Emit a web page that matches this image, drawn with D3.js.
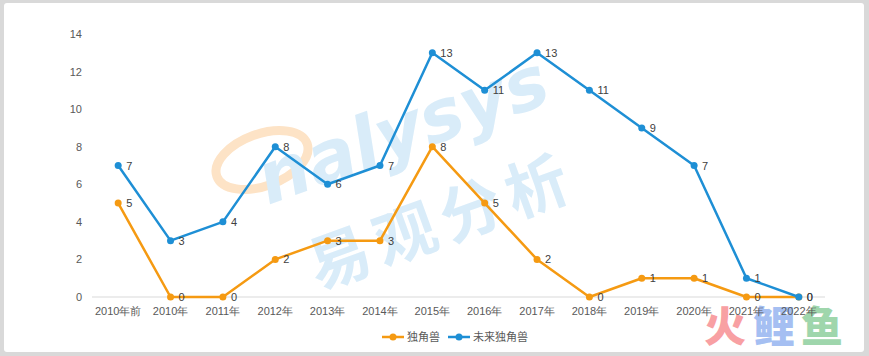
<!DOCTYPE html>
<html><head><meta charset="utf-8">
<script src="https://cdn.jsdelivr.net/npm/d3@7"></script>
<style>html,body{margin:0;padding:0;background:#fff;}svg{display:block;}</style>
</head><body>
<svg id="c" width="869" height="356"></svg>
<script>
const categories = ["2010年前","2010年","2011年","2012年","2013年","2014年","2015年","2016年","2017年","2018年","2019年","2020年","2021年","2022年"];
const unicorn = [5,0,0,2,3,3,8,5,2,0,1,1,0,0];
const futureUnicorn = [7,3,4,8,6,7,13,11,13,11,9,7,1,0];
const yTicks = [0,2,4,6,8,10,12,14];
const seriesNames = ["独角兽","未来独角兽"];
const colors = ["#F59A12","#1E8FD5"];

const svg = d3.select("#c");
const W = 869, H = 356;
const font = "'Liberation Sans', Arial, sans-serif";
svg.append("rect").attr("width",W).attr("height",H).attr("fill","#d9d9d9");
svg.append("rect").attr("x",4).attr("y",3).attr("width",860).attr("height",349).attr("rx",3).attr("fill","#fff");

// watermark
const wm = svg.append("g").attr("pointer-events","none");
wm.append("ellipse").attr("cx",262).attr("cy",160).attr("rx",48).attr("ry",26)
  .attr("transform","rotate(-20,262,160)").attr("fill","none").attr("stroke","#fde3c6").attr("stroke-width",9);
wm.append("text").attr("x",0).attr("y",0).attr("transform","translate(268,205) rotate(-20)")
  .attr("font-family","'DejaVu Sans', sans-serif").attr("font-style","italic").attr("font-weight","bold")
  .attr("font-size",72).attr("fill","#d9ecf9").text("nalysys");
wm.append("text").attr("transform","translate(318,290) rotate(-20)")
  .attr("font-family","'Noto Sans CJK SC', sans-serif").attr("font-weight","bold")
  .attr("font-size",62).attr("letter-spacing",8).attr("fill","#d9ecf9").text("易观分析");

// site watermark (drawn beneath axis labels)
const sw = svg.append("g").attr("font-family","'Noto Sans CJK SC', sans-serif").attr("font-weight","900").attr("font-size",42);
sw.append("text").attr("x",704).attr("y",342).attr("fill","#f8a0a3").text("火");
sw.append("text").attr("x",753).attr("y",342).attr("fill","#a5bff2").text("鲤");
sw.append("text").attr("x",801).attr("y",342).attr("fill","#9fd6ac").text("鱼");

const x = d3.scaleBand().domain(categories).range([92,825]);
const y = d3.scaleLinear().domain([0,14]).range([297,34]);
const cx = d => x(d) + x.bandwidth()/2;

// y axis labels
const ya = svg.append("g").attr("transform","translate(82,0)")
  .call(d3.axisLeft(y).tickValues(yTicks).tickSize(0).tickPadding(0));
ya.select(".domain").remove();
ya.selectAll("text").attr("font-family",font).attr("font-size",11).attr("fill","#595959");

// baseline
svg.append("line").attr("x1",92).attr("x2",825).attr("y1",y(0)).attr("y2",y(0))
  .attr("stroke","#d9d9d9").attr("stroke-width",1);

// x axis labels
const xa = svg.append("g").attr("transform",`translate(0,${y(0)})`)
  .call(d3.axisBottom(x).tickSize(0).tickPadding(10));
xa.select(".domain").remove();
xa.selectAll("text").attr("font-family",font).attr("font-size",11).attr("fill","#595959");

const line = d3.line().x((d,i)=>cx(categories[i])).y(d=>y(d));
[unicorn, futureUnicorn].forEach((vals, s) => {
  const g = svg.append("g");
  g.append("path").datum(vals).attr("d",line).attr("fill","none")
    .attr("stroke",colors[s]).attr("stroke-width",2.5).attr("stroke-linejoin","round");
  g.selectAll("circle").data(vals).join("circle")
    .attr("cx",(d,i)=>cx(categories[i])).attr("cy",d=>y(d)).attr("r",3.5).attr("fill",colors[s]);
  g.selectAll("text").data(vals).join("text")
    .attr("x",(d,i)=>cx(categories[i])+8).attr("y",d=>y(d)+4)
    .attr("font-family",font).attr("font-size",11).attr("fill","#404040").text(d=>d);
});

// legend
const legend = svg.append("g").attr("transform","translate(382,337)");
const lx = [0, 66];
seriesNames.forEach((n,i)=>{
  const g = legend.append("g").attr("transform",`translate(${lx[i]},0)`);
  g.append("line").attr("x1",0).attr("x2",22).attr("y1",0).attr("y2",0).attr("stroke",colors[i]).attr("stroke-width",2.5);
  g.append("circle").attr("cx",11).attr("cy",0).attr("r",3.5).attr("fill",colors[i]);
  g.append("text").attr("x",25).attr("y",4).attr("font-family","'Noto Sans CJK SC', sans-serif")
    .attr("font-size",11).attr("fill","#595959").text(n);
});
</script>
</body></html>
